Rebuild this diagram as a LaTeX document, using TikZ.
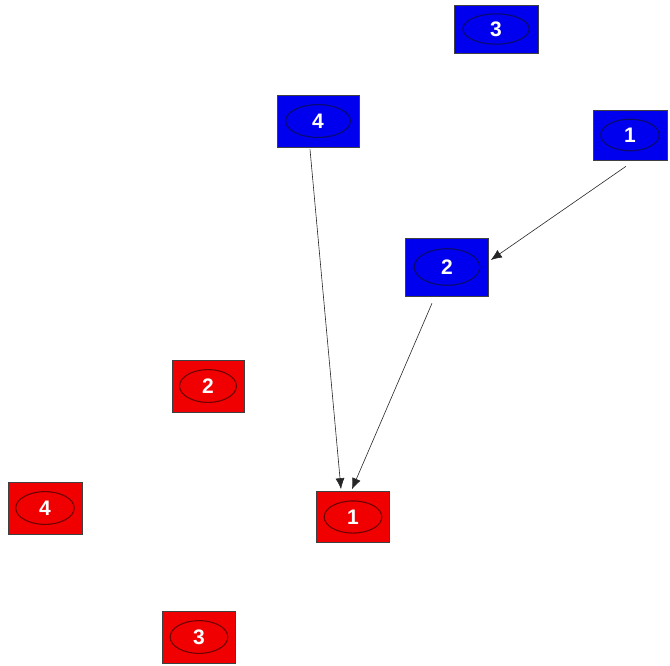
\documentclass[tikz,border=0pt]{standalone}
\usepackage{fontspec}
\setmainfont{Liberation Sans}
\usetikzlibrary{arrows.meta,calc}

\definecolor{boxblue}{RGB}{0,0,238}
\definecolor{boxred}{RGB}{240,0,0}
\definecolor{ringblue}{RGB}{10,10,110}
\definecolor{ringred}{RGB}{110,0,0}

\begin{document}
\begin{tikzpicture}[x=1pt, y=-1pt,
    tnode/.style={rectangle, draw=black!75, line width=0.6pt,
        minimum width=74pt, minimum height=52pt, inner sep=0pt,
        text=white, font=\fontsize{21}{24}\selectfont\bfseries,
        path picture={
            \draw[draw=#1, line width=1.1pt]
                let \p1 = ($(path picture bounding box.north east)-(path picture bounding box.south west)$)
                in (path picture bounding box.center) ellipse ({0.395*\x1} and {0.315*\y1});
        }},
    bluebox/.style={tnode=ringblue, fill=boxblue},
    redbox/.style={tnode=ringred, fill=boxred},
    edge/.style={line width=0.6pt, draw=black!85, -{Latex[length=11pt,width=9pt]}}
]
    \useasboundingbox (0,0) rectangle (670,665);

    \node[bluebox, minimum width=84pt, minimum height=48pt] (b3) at (496,29) {3};
    \node[bluebox, minimum width=82pt] (b4) at (318,121) {4};
    \node[bluebox, minimum height=50pt] (b1) at (630,135) {1};
    \node[bluebox, minimum width=83pt, minimum height=58pt] (b2) at (447,267) {2};

    \node[redbox, minimum width=72pt] (r2) at (208,386) {2};
    \node[redbox] (r4) at (45,508) {4};
    \node[redbox, minimum width=73pt, minimum height=51pt] (r1) at (353,517) {1};
    \node[redbox, minimum width=73pt] (r3) at (199,637) {3};

    \draw[edge] ([xshift=-4pt,yshift=-6pt]b1.south) -- ([xshift=2pt,yshift=7pt]b2.east);
    \draw[edge] ([xshift=-8pt,yshift=-2pt]b4.south) -- ([xshift=-12pt,yshift=2pt]r1.north);
    \draw[edge] ([xshift=-15pt,yshift=-7pt]b2.south) -- ([xshift=-1pt,yshift=2pt]r1.north);
\end{tikzpicture}
\end{document}
